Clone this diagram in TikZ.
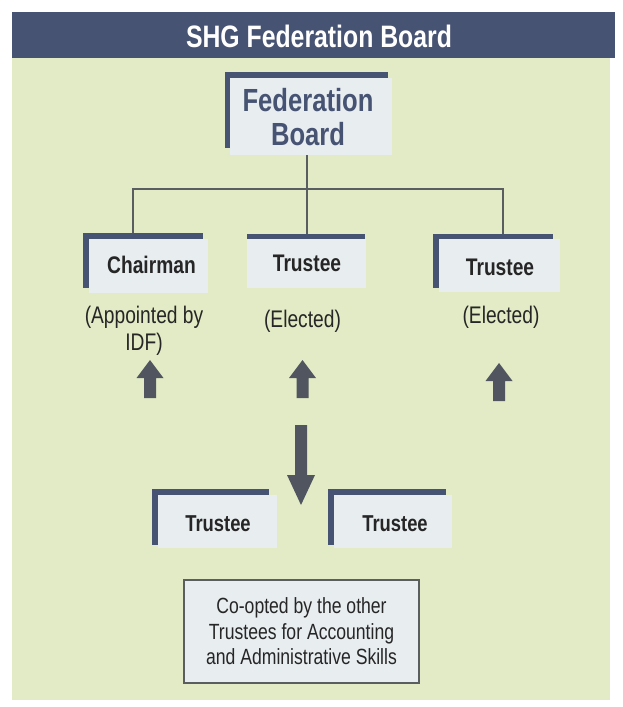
\documentclass[tikz,border=0pt]{standalone}
\usepackage{fontspec}
\setmainfont{Liberation Sans}[FakeStretch=0.8]
\definecolor{hdr}{HTML}{475373}
\definecolor{bggreen}{HTML}{E2EBC5}
\definecolor{boxfill}{HTML}{E8EDF0}
\definecolor{txt}{HTML}{262626}
\definecolor{arrowc}{HTML}{50555F}
\definecolor{connc}{HTML}{5A5E60}
\tikzset{
  box/.style={rectangle, fill=boxfill, inner sep=0pt, text=txt, font=\bfseries\fontsize{24}{28}\selectfont},
  bar/.style={fill=hdr},
  conn/.style={draw=connc, line width=1.4pt},
  lbl/.style={text=txt, align=center, inner sep=0pt, font=\fontsize{24}{27}\selectfont},
  uparrow/.pic={\fill[arrowc] (-6,0) -- (-6,-20) -- (-13.5,-20) -- (0,-38) -- (13.5,-20) -- (6,-20) -- (6,0) -- cycle;},
  downarrow/.pic={\fill[arrowc] (-6,0) -- (-6,50) -- (-14,50) -- (0,80) -- (14,50) -- (6,50) -- (6,0) -- cycle;}
}
\begin{document}
\begin{tikzpicture}[x=1pt,y=-1pt]
\useasboundingbox[fill=white] (0,0) rectangle (622,707);
% background
\fill[bggreen] (12,58) rectangle (610,700);
\node[fill=hdr, minimum width=603pt, minimum height=46pt, inner sep=0pt] (title) at (313.5,35) {};
\node[text=white, font=\bfseries\fontsize{31}{34}\selectfont, inner sep=0pt] (titletext) at (319,36) {SHG Federation Board};

% boxes (fills)
\node[box, minimum width=162pt, minimum height=77pt] (fb) at (311,116.5) {};
\node[text=hdr, align=center, inner sep=0pt, font=\bfseries\fontsize{32}{34}\selectfont] (fbtext) at (308,117) {Federation\\Board};

\node[box, minimum width=119pt, minimum height=54pt] (ch) at (148.5,266) {};
\node[box, minimum width=119pt, minimum height=49pt] (tm) at (306.5,263.5) {};
\node[box, minimum width=121pt, minimum height=53pt] (tr) at (499.5,265.5) {};
\node[box, minimum width=119pt, minimum height=53pt] (bl) at (217.5,521.5) {};
\node[box, minimum width=118pt, minimum height=53pt] (br) at (393,521.5) {};

% connectors
\coordinate (jm) at (307,189);
\coordinate (jl) at (133,189);
\coordinate (jr) at (503,189);
\draw[conn] (jm |- fb.south) -- (jm);
\draw[conn] (jl |- ch.north) -- (jl) -- (jr) -- (jr |- tr.north);
\draw[conn] (jm) -- (jm |- tm.north);

% bars
\fill[bar] (225,72) rectangle (388,78);
\fill[bar] (225,72) rectangle (230,148);
\fill[bar] (83,233) rectangle (203,239);
\fill[bar] (83,233) rectangle (89,288);
\fill[bar] (247,234) rectangle (365,239);
\fill[bar] (433,234) rectangle (553,239);
\fill[bar] (433,234) rectangle (439,288);
\fill[bar] (152,489) rectangle (269,495);
\fill[bar] (152,489) rectangle (158,545);
\fill[bar] (328,489) rectangle (446,495);
\fill[bar] (328,489) rectangle (334,545);

% box texts
\node[box, fill=none] (cht) at (151.5,265) {Chairman};
\node[box, fill=none] (tmt) at (307,263) {Trustee};
\node[box, fill=none] (trt) at (500,267) {Trustee};
\node[box, fill=none, font=\bfseries\fontsize{23}{27}\selectfont] (blt) at (218,524) {Trustee};
\node[box, fill=none, font=\bfseries\fontsize{23}{27}\selectfont] (brt) at (395,524) {Trustee};

% labels
\node[lbl] (chl) at (144,331) {(Appointed by\\IDF)};
\node[lbl] (tml) at (302.5,321) {(Elected)};
\node[lbl] (trl) at (501,317) {(Elected)};

% arrows
\pic at (150,398) {uparrow};
\pic at (302.5,398) {uparrow};
\pic at (499,401) {uparrow};
\pic at (301,425) {downarrow};

% co-opted box
\node[draw=connc, line width=1.4pt, fill=boxfill, minimum width=235pt, minimum height=103pt, inner sep=0pt,
      text=txt, align=center, font=\fontsize{22}{25.5}\selectfont] (coopt) at (301.5,631.5)
  {Co-opted by the other\\Trustees for Accounting\\and Administrative Skills};
\end{tikzpicture}
\end{document}
